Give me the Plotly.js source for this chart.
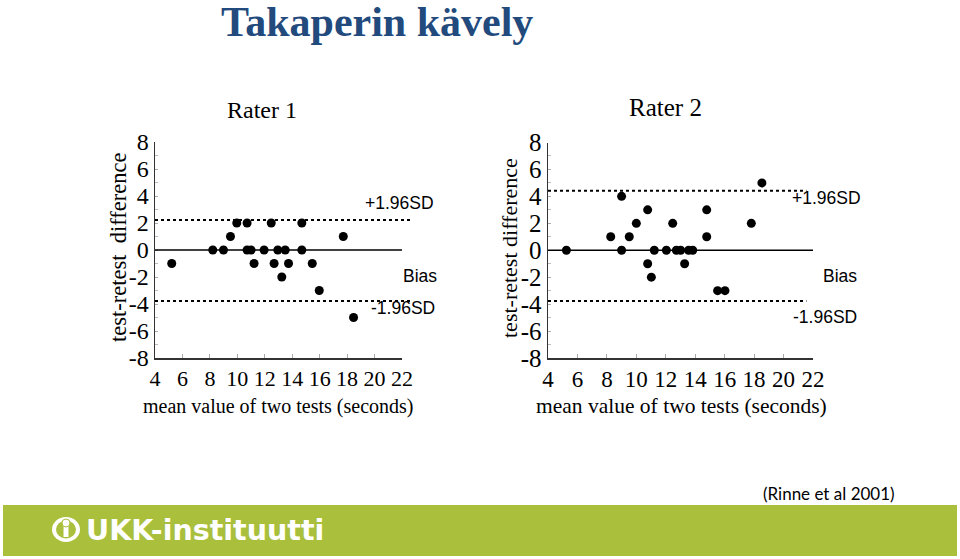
<!DOCTYPE html>
<html>
<head>
<meta charset="utf-8">
<script src="https://cdn.plot.ly/plotly-3.0.1.min.js"></script>
<style>
html,body{margin:0;padding:0;background:#fff;}
#chart{width:960px;height:559px;}
</style>
</head>
<body>
<div id="chart"></div>
<script>
// ---- Data ----
const r1Mean = [5.22, 8.21, 8.99, 9.5, 9.96, 10.71, 10.71, 11.0, 11.22, 11.95, 12.47, 12.68, 12.95, 13.24, 13.49, 13.73, 14.7, 14.7, 15.46, 15.97, 17.72, 18.47];
const r1Diff = [-1, 0, 0, 1, 2, 2, 0, 0, -1, 0, 2, -1, 0, -2, 0, -1, 0, 2, -1, -3, 1, -5];
const r1Limits = [2.22, 0, -3.78]; // +1.96SD, bias, -1.96SD

const r2Mean = [5.25, 8.26, 9.0, 9.0, 9.52, 10.0, 10.77, 10.77, 11.02, 11.22, 12.04, 12.47, 12.72, 13.01, 13.28, 13.55, 13.83, 14.78, 14.78, 15.52, 16.02, 17.81, 18.53];
const r2Diff = [0, 1, 4, 0, 1, 2, 3, -1, -2, 0, 0, 2, 0, 0, -1, 0, 0, 3, 1, -3, -3, 2, 5];
const r2Limits = [4.42, 0, -3.77];

const xTicks = [4, 6, 8, 10, 12, 14, 16, 18, 20, 22];
const yTicks = [-8, -6, -4, -2, 0, 2, 4, 6, 8];
const limitLabels = ['+1.96SD', 'Bias', '-1.96SD'];

// ---- helpers (layout pixels -> paper) ----
const W = 960, H = 559;
const px = x => x / W;
const py = y => 1 - y / H;

const serif = 'Liberation Serif';
const sans = 'Liberation Sans';

function xAxis(domain, fs) {
  return {
    domain: domain, range: [4, 22], tickmode: 'array', tickvals: xTicks, ticktext: xTicks.map(String),
    showline: true, linecolor: '#333', linewidth: 1.5, showgrid: false, zeroline: false,
    ticks: 'inside', ticklen: 4, tickcolor: '#aaa', tickwidth: 1,
    tickfont: {family: serif, size: fs, color: '#000'}, fixedrange: true
  };
}
function yAxis(domain, anchor, fs) {
  return {
    domain: domain, anchor: anchor, range: [-8, 8], tickmode: 'array', tickvals: yTicks, ticktext: yTicks.map(String),
    showline: true, linecolor: '#333', linewidth: 1.5, showgrid: false, zeroline: false,
    ticks: 'inside', ticklen: 3, tickcolor: '#aaa', tickwidth: 1,
    minor: {dtick: 1, ticks: 'inside', ticklen: 3, tickcolor: '#bbb', showgrid: false},
    tickfont: {family: serif, size: fs, color: '#000'}, fixedrange: true
  };
}

const traces = [
  {x: r1Mean, y: r1Diff, xaxis: 'x', yaxis: 'y', type: 'scatter', mode: 'markers',
   marker: {color: '#000', size: 9}, cliponaxis: false, hoverinfo: 'x+y'},
  {x: r2Mean, y: r2Diff, xaxis: 'x2', yaxis: 'y2', type: 'scatter', mode: 'markers',
   marker: {color: '#000', size: 9}, cliponaxis: false, hoverinfo: 'x+y'}
];

function limitShapes(limits, xr, yr, dottedEnd) {
  return limits.map((v, i) => ({
    type: 'line', xref: xr + ' domain', yref: yr,
    x0: 0, x1: (i === 1 ? 1 : dottedEnd), y0: v, y1: v,
    line: {color: '#000', width: i === 1 ? 1.5 : 2, dash: i === 1 ? 'solid' : 'dot'}
  }));
}

const green = '#AABF3C';
const shapes = [].concat(
  limitShapes(r1Limits, 'x', 'y', 1.04),
  limitShapes(r2Limits, 'x2', 'y2', 0.975),
  [
    {type: 'rect', xref: 'paper', yref: 'paper', x0: px(3), x1: px(957), y0: py(556), y1: py(505),
     fillcolor: green, line: {width: 0}, layer: 'below'},
    {type: 'circle', xref: 'paper', yref: 'paper', x0: px(52), x1: px(80), y0: py(542), y1: py(517),
     fillcolor: '#fff', line: {width: 0}},
    {type: 'circle', xref: 'paper', yref: 'paper', x0: px(56), x1: px(76), y0: py(538.5), y1: py(520.5),
     fillcolor: green, line: {width: 0}},
    {type: 'rect', xref: 'paper', yref: 'paper', x0: px(63.5), x1: px(68.5), y0: py(537), y1: py(526),
     fillcolor: '#fff', line: {width: 0}},
    {type: 'circle', xref: 'paper', yref: 'paper', x0: px(62), x1: px(70), y0: py(527), y1: py(519),
     fillcolor: '#fff', line: {color: green, width: 1}}
  ]
);

function ann(text, x, y, font, extra) {
  return Object.assign({text: text, x: px(x), y: py(y), xref: 'paper', yref: 'paper',
    showarrow: false, xanchor: 'center', yanchor: 'middle', font: font}, extra || {});
}

const annotations = [
  ann('<b>Takaperin kävely</b>', 377, 22, {family: serif, size: 42, color: '#224A7D'}),
  ann('Rater 1', 262, 110, {family: serif, size: 24, color: '#000'}),
  ann('Rater 2', 665, 108, {family: serif, size: 25, color: '#000'}),
  ann('test-retest\u00a0\u00a0difference', 118, 248, {family: serif, size: 22.5, color: '#000'}, {textangle: -90}),
  ann('test-retest difference', 509, 248, {family: serif, size: 22, color: '#000'}, {textangle: -90}),
  ann('mean value of two tests (seconds)', 278, 406, {family: serif, size: 20, color: '#000'}),
  ann('mean value of two tests (seconds)', 681, 406, {family: serif, size: 21.5, color: '#000'}),
  ann(limitLabels[0], 399, 203, {family: sans, size: 17.5, color: '#000'}),
  ann(limitLabels[1], 420, 276, {family: sans, size: 17.5, color: '#000'}),
  ann(limitLabels[2], 403, 308, {family: sans, size: 17.5, color: '#000'}),
  ann(limitLabels[0], 826, 198, {family: sans, size: 17.5, color: '#000'}),
  ann(limitLabels[1], 840, 276, {family: sans, size: 17.5, color: '#000'}),
  ann(limitLabels[2], 825, 317, {family: sans, size: 17.5, color: '#000'}),
  ann('(Rinne et al 2001)', 829, 493, {family: 'Lato', size: 17, color: '#000'}),
  ann('<b>UKK-instituutti</b>', 84, 530, {family: 'DejaVu Sans', size: 28.5, color: '#fff'}, {xanchor: 'left'})
];

const layout = {
  width: W, height: H,
  margin: {l: 0, r: 0, t: 0, b: 0},
  paper_bgcolor: '#fff', plot_bgcolor: 'rgba(0,0,0,0)',
  showlegend: false,
  xaxis: Object.assign(xAxis([px(155), px(402)], 22), {anchor: 'y'}),
  yaxis: yAxis([py(358), py(142)], 'x', 24),
  xaxis2: Object.assign(xAxis([px(548), px(813)], 23), {anchor: 'y2'}),
  yaxis2: yAxis([py(358), py(142.5)], 'x2', 25),
  shapes: shapes,
  annotations: annotations
};

Plotly.newPlot('chart', traces, layout, {displayModeBar: false, staticPlot: true});
</script>
</body>
</html>
